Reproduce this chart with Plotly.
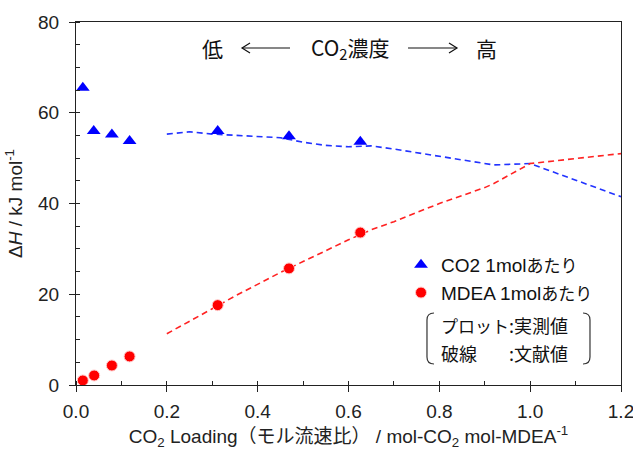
import plotly.graph_objects as go

# measured points
co2_x = [0.015, 0.039, 0.079, 0.118, 0.312, 0.469, 0.626]
co2_y = [65.5, 56.0, 55.2, 53.8, 56.0, 54.8, 53.6]
mdea_x = [0.015, 0.040, 0.079, 0.118, 0.312, 0.469, 0.626]
mdea_y = [1.0, 2.1, 4.3, 6.3, 17.6, 25.7, 33.6]

# literature (dashed)
lit_x = [0.2, 0.25, 0.3, 0.35, 0.4, 0.45, 0.5, 0.55, 0.6, 0.65, 0.7, 0.8, 0.9, 0.92, 1.0, 1.1, 1.2]
lit_co2 = [55.3, 55.8, 55.3, 55.0, 54.8, 54.5, 53.5, 52.8, 52.5, 52.7, 52.0, 50.4, 48.8, 48.5, 48.8, 45.2, 41.5]
lit_mdea = [11.3, 14.0, 16.8, 19.6, 22.2, 24.8, 27.2, 29.6, 32.0, 34.2, 36.0, 40.0, 43.5, 44.4, 48.8, 49.9, 51.0]

x_ticks = [0.0, 0.2, 0.4, 0.6, 0.8, 1.0, 1.2]
y_ticks = [0, 20, 40, 60, 80]

FONT = "Liberation Sans, Arial, Noto Sans CJK JP, sans-serif"
JFONT = "Noto Sans CJK JP, sans-serif"

def jp(s, size):
    return f'<span style="font-size:{size}px">{s}</span>'

fig = go.Figure()
fig.add_trace(go.Scatter(x=lit_x, y=lit_co2, mode="lines", showlegend=False,
                         line=dict(color="#2233ff", width=1.6, dash="6px,4px")))
fig.add_trace(go.Scatter(x=lit_x, y=lit_mdea, mode="lines", showlegend=False,
                         line=dict(color="#ff2222", width=1.6, dash="6px,4px")))
fig.add_trace(go.Scatter(x=co2_x, y=co2_y, mode="markers", name="CO2 1mol" + jp("あたり", 17),
                         marker=dict(symbol="triangle-up", size=12, color="#0000ff")))
fig.add_trace(go.Scatter(x=mdea_x, y=mdea_y, mode="markers", name="MDEA 1mol" + jp("あたり", 17),
                         marker=dict(symbol="circle", size=11, color="#ff0000",
                                     line=dict(color="#ffcccc", width=1))))

L, R, T, B = 76, 12, 22, 65
W, H = 633, 450
PW, PH = W - L - R, H - T - B

def px(x):
    return (x - L) / PW

def py(y):
    return (H - B - y) / PH

annotations = []
for t, xx in [("低", 212), ("CO<sub>2</sub>濃度", 350), ("高", 486)]:
    annotations.append(dict(text=t, x=px(xx), y=py(48), xref="paper", yref="paper",
                            showarrow=False, font=dict(family=JFONT, size=21, color="#111"),
                            xanchor="center", yanchor="middle"))
for t, xx, yy in [(jp("プロット", 17), 439, 325), (":実測値", 507, 325),
                  ("破線", 439, 353), (":文献値", 507, 353)]:
    annotations.append(dict(text=t, x=px(xx), y=py(yy), xref="paper", yref="paper",
                            showarrow=False, font=dict(family=JFONT, size=18, color="#111"),
                            xanchor="left", yanchor="middle"))

shapes = []
def path(points):
    return "M " + " L ".join(f"{px(a):.4f},{py(b):.4f}" for a, b in points)

for p in [[(290, 48), (242, 48)], [(250, 43), (242, 48), (250, 53)],
          [(408, 48), (457, 48)], [(449, 43), (457, 48), (449, 53)]]:
    shapes.append(dict(type="path", path=path(p), xref="paper", yref="paper",
                       line=dict(color="#111", width=1.2)))
lb = f"M {px(434):.4f},{py(313):.4f} Q {px(427):.4f},{py(313):.4f} {px(427):.4f},{py(320):.4f} L {px(427):.4f},{py(357):.4f} Q {px(427):.4f},{py(364):.4f} {px(434):.4f},{py(364):.4f}"
rb = f"M {px(583):.4f},{py(313):.4f} Q {px(590):.4f},{py(313):.4f} {px(590):.4f},{py(320):.4f} L {px(590):.4f},{py(357):.4f} Q {px(590):.4f},{py(364):.4f} {px(583):.4f},{py(364):.4f}"
for p in [lb, rb]:
    shapes.append(dict(type="path", path=p, xref="paper", yref="paper",
                       line=dict(color="#333", width=1.2)))

axis_common = dict(showline=True, linecolor="#222", linewidth=1.3, mirror=True,
                   ticks="outside", ticklen=6, tickcolor="#222", tickwidth=1.3,
                   showgrid=False, zeroline=False, automargin=False,
                   ticklabeloverflow="allow",
                   tickfont=dict(family=FONT, size=19, color="#222"))

fig.update_layout(
    width=W, height=H,
    margin=dict(l=L, r=R, t=T, b=B),
    paper_bgcolor="white", plot_bgcolor="white",
    font=dict(family=FONT, size=19, color="#222"),
    xaxis=dict(range=[0, 1.2], tickvals=x_ticks, ticktext=[f"{v:.1f}" for v in x_ticks],
               minor=dict(dtick=0.1, ticks="inside", ticklen=4, tickcolor="#222", tickwidth=1.3),
               ticklabelstandoff=3,
               title=dict(text="CO<sub>2</sub> Loading（モル流速比） / mol-CO<sub>2</sub> mol-MDEA<sup>-1</sup>",
                          font=dict(family=FONT, size=19, color="#222"), standoff=10),
               **axis_common),
    yaxis=dict(range=[0, 80], tickvals=y_ticks,
               minor=dict(dtick=5, ticks="inside", ticklen=4, tickcolor="#222", tickwidth=1.3),
               ticklabelstandoff=6,
               title=dict(text="Δ<i>H</i> / kJ mol<sup>-1</sup>",
                          font=dict(family=FONT, size=19, color="#222"), standoff=10),
               **axis_common),
    legend=dict(x=px(401), y=py(246), xanchor="left", yanchor="top",
                bgcolor="rgba(0,0,0,0)", font=dict(family=FONT, size=19, color="#111"),
                itemwidth=30, tracegroupgap=0),
    annotations=annotations,
    shapes=shapes,
)

fig.write_html("out.html", config={"displayModeBar": False},
               post_script="document.body.style.margin='0';")
